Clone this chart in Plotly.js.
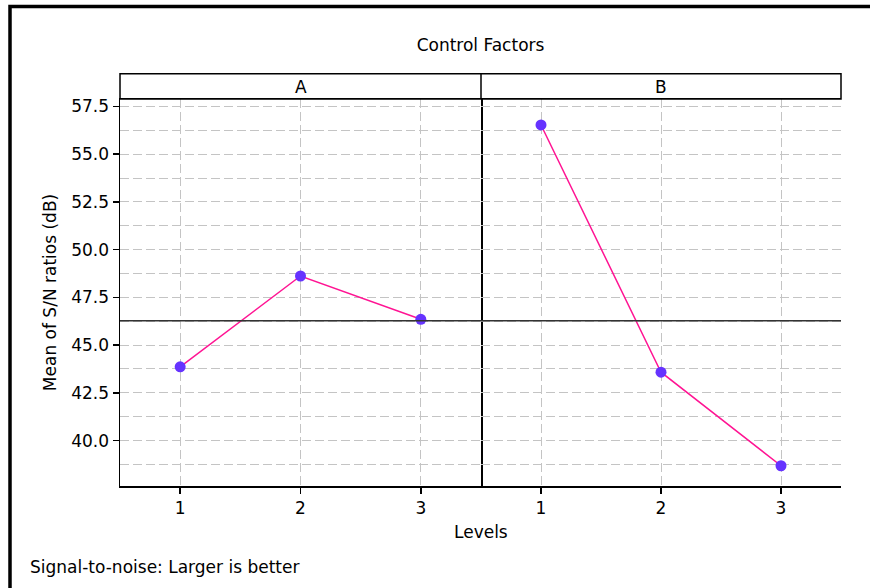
<!DOCTYPE html>
<html>
<head>
<meta charset="utf-8">
<script src="https://cdn.plot.ly/plotly-3.0.1.min.js"></script>
<style>html,body{margin:0;padding:0;background:#fff;}#chart{width:870px;height:588px;}</style>
</head>
<body>
<div id="chart"></div>
<script>
// Data
const levels = [1, 2, 3];
const levelLabels = ['1', '2', '3'];
const factorNames = ['A', 'B'];
const meansA = [43.86, 48.62, 46.35];
const meansB = [56.53, 43.58, 38.68];
const yTickVals = [40.0, 42.5, 45.0, 47.5, 50.0, 52.5, 55.0, 57.5];

const allVals = meansA.concat(meansB);
const grandMean = allVals.reduce((a, b) => a + b, 0) / allVals.length;

const FONT = 'DejaVu Sans, sans-serif';
const FS = 17;
const lineColor = '#FF1493';
const markerColor = '#6633FF';

const traces = [
  {x: levels, y: meansA, xaxis: 'x', yaxis: 'y', type: 'scatter', mode: 'lines+markers',
   line: {color: lineColor, width: 1.5}, marker: {color: markerColor, size: 11}, hoverinfo: 'x+y'},
  {x: levels, y: meansB, xaxis: 'x2', yaxis: 'y', type: 'scatter', mode: 'lines+markers',
   line: {color: lineColor, width: 1.5}, marker: {color: markerColor, size: 11}, hoverinfo: 'x+y'}
];

const plotW = 721, plotH = 386.4, mL = 120, mT = 99.3;
const px2x = px => (px - mL) / plotW;
const py2y = py => (mT + plotH - py) / plotH;

const gridCol = '#c4c4c4';
const xCommon = {
  range: [0.5, 3.5], tickvals: levels, ticktext: levelLabels,
  showgrid: true, gridcolor: gridCol, griddash: '9px,4px', gridwidth: 1,
  zeroline: false, showline: true, mirror: true, linecolor: '#000', linewidth: 1.5,
  ticks: 'outside', ticklen: 6, tickcolor: '#000', tickwidth: 1.5,
  tickfont: {family: FONT, size: FS, color: '#000'}, fixedrange: true
};

const divider = px2x(481);

const layout = {
  width: 870, height: 588,
  margin: {l: mL, r: 870 - 841, t: mT, b: 588 - mT - plotH},
  paper_bgcolor: '#fff', plot_bgcolor: '#fff',
  showlegend: false,
  font: {family: FONT, size: FS, color: '#000'},
  title: {text: 'Control Factors', xref: 'paper', x: 0.5, xanchor: 'center',
          yref: 'container', y: 1 - 45 / 588, yanchor: 'middle',
          font: {family: FONT, size: FS, color: '#000'}},
  xaxis: Object.assign({}, xCommon, {domain: [0, divider], anchor: 'y'}),
  xaxis2: Object.assign({}, xCommon, {domain: [divider, 1], anchor: 'y'}),
  yaxis: {
    range: [37.62, 57.89], tickvals: yTickVals, tickformat: '.1f',
    showgrid: true, gridcolor: gridCol, griddash: '9px,4px', gridwidth: 1,
    minor: {dtick: 1.25, tick0: 0, showgrid: true, gridcolor: gridCol, griddash: '9px,4px', gridwidth: 1, ticks: ''},
    zeroline: false, showline: true, mirror: true, linecolor: '#000', linewidth: 1.5,
    ticks: 'outside', ticklen: 6, tickcolor: '#000', tickwidth: 1.5,
    tickfont: {family: FONT, size: FS, color: '#000'},
    title: {text: 'Mean of S/N ratios (dB)', font: {family: FONT, size: FS, color: '#000'}, standoff: 10},
    fixedrange: true
  },
  shapes: [
    // grand mean reference line
    {type: 'line', xref: 'paper', yref: 'y', x0: 0, x1: 1, y0: grandMean, y1: grandMean,
     line: {color: '#333', width: 1.5}, layer: 'above'},
    // panel divider in strip
    {type: 'line', xref: 'paper', yref: 'paper', x0: divider, x1: divider, y0: 1, y1: py2y(74),
     line: {color: '#000', width: 1.5}},
    // strip header
    {type: 'rect', xref: 'paper', yref: 'paper', x0: 0, x1: 1, y0: 1, y1: py2y(74),
     line: {color: '#000', width: 1.5}, fillcolor: 'rgba(0,0,0,0)'},
    // outer frame
    {type: 'rect', xref: 'paper', yref: 'paper', x0: px2x(10), x1: px2x(900), y0: py2y(620), y1: py2y(7),
     line: {color: '#000', width: 3.5}, fillcolor: 'rgba(0,0,0,0)'}
  ],
  annotations: [
    {text: factorNames[0], xref: 'paper', yref: 'paper', x: divider / 2, y: py2y(87), xanchor: 'center', yanchor: 'middle', showarrow: false, font: {family: FONT, size: FS, color: '#000'}},
    {text: factorNames[1], xref: 'paper', yref: 'paper', x: (divider + 1) / 2, y: py2y(87), xanchor: 'center', yanchor: 'middle', showarrow: false, font: {family: FONT, size: FS, color: '#000'}},
    {text: 'Levels', xref: 'paper', yref: 'paper', x: 0.5, y: py2y(532), xanchor: 'center', yanchor: 'middle', showarrow: false, font: {family: FONT, size: FS, color: '#000'}},
    {text: 'Signal-to-noise: Larger is better', xref: 'paper', yref: 'paper', x: px2x(28), y: py2y(567), xanchor: 'left', yanchor: 'middle', showarrow: false, font: {family: FONT, size: FS, color: '#000'}}
  ]
};

Plotly.newPlot('chart', traces, layout, {displayModeBar: false, staticPlot: true});
</script>
</body>
</html>
